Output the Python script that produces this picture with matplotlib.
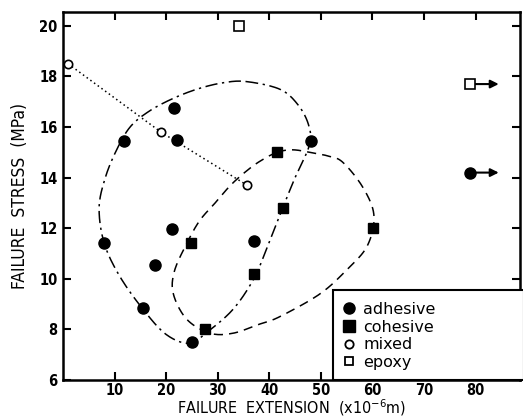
import numpy as np
import matplotlib
matplotlib.use("Agg")
import matplotlib.pyplot as plt
import matplotlib.patches as mpatches
from matplotlib.lines import Line2D

plt.rcParams['font.family'] = ['DejaVu Sans']
plt.rcParams['mathtext.default'] = 'regular'

# data (extension x10^-6 m, stress MPa)
adhesive_x = [21.5, 11.9, 22.1, 48.0, 7.9, 21.1, 17.9, 15.5, 25.1, 37.0]
adhesive_y = [16.75, 15.45, 15.5, 15.45, 11.4, 11.95, 10.55, 8.85, 7.5, 11.5]
cohesive_x = [24.9, 27.5, 37.0, 41.5, 42.6, 60.1]
cohesive_y = [11.4, 8.0, 10.2, 15.0, 12.8, 12.0]
mixed_x = [1.0, 19.0, 35.7]
mixed_y = [18.5, 15.8, 13.7]
epoxy_x = [34.1]
epoxy_y = [20.0]
# points beyond the range (drawn with arrows)
off_x = [79.0, 79.0]
off_y = [17.7, 14.2]
off_kind = ['epoxy', 'adhesive']

# hand drawn envelopes round the groups
adh_env_x = [35.5, 42, 45.5, 47.6, 47.8, 45, 42.6, 39.5, 37, 33, 28, 24.5, 20, 15.5, 11, 8, 7.0, 8.2, 10.4, 13, 16.5, 21, 26, 31]
adh_env_y = [17.8, 17.5, 16.9, 16.1, 15.3, 14.0, 12.8, 11.2, 10.0, 8.8, 7.9, 7.45, 7.8, 8.8, 10.1, 11.4, 12.8, 14.0, 15.1, 16.0, 16.6, 17.1, 17.5, 17.75]
coh_env_x = [41.5, 44.5, 47.9, 51.5, 54.3, 58.2, 60.3, 59, 55, 49.8, 42, 38, 33, 28.5, 24, 21.4, 21.6, 24, 26.5, 29.5, 32.5, 35.5, 38.2]
coh_env_y = [15.0, 15.1, 15.0, 14.85, 14.6, 13.6, 12.5, 11.3, 10.35, 9.4, 8.5, 8.2, 7.85, 7.85, 8.4, 9.4, 10.3, 11.4, 12.3, 13.0, 13.7, 14.25, 14.65]


def closed_curve(xs, ys, n=20):
    # Catmull-Rom through the envelope points, closed loop
    p = np.column_stack([xs, ys])
    m = len(p)
    out = []
    for i in range(m):
        p0, p1, p2, p3 = p[i - 1], p[i], p[(i + 1) % m], p[(i + 2) % m]
        t = np.linspace(0, 1, n, endpoint=False)[:, None]
        seg = 0.5 * ((2 * p1) + (-p0 + p2) * t + (2 * p0 - 5 * p1 + 4 * p2 - p3) * t ** 2
                     + (-p0 + 3 * p1 - 3 * p2 + p3) * t ** 3)
        out.append(seg)
    out = np.vstack(out + [out[0][:1]])
    return out[:, 0], out[:, 1]


fig = plt.figure(figsize=(5.23, 4.19), dpi=100)
ax = fig.add_axes([0.1205, 0.0931, 0.8735, 0.8783])

cx, cy = closed_curve(adh_env_x, adh_env_y)
ax.plot(cx, cy, color='k', lw=1.1, linestyle=(0, (8, 3, 1.5, 3)))
cx, cy = closed_curve(coh_env_x, coh_env_y)
ax.plot(cx, cy, color='k', lw=1.1, linestyle=(0, (6, 4)))

ax.plot(mixed_x, mixed_y, color='k', lw=1.1, linestyle=(0, (1, 2)))

ax.plot(adhesive_x, adhesive_y, 'o', color='k', ms=8, zorder=5)
ax.plot(cohesive_x, cohesive_y, 's', color='k', ms=7.5, zorder=5)
ax.plot(mixed_x, mixed_y, 'o', mfc='white', mec='k', mew=1.2, ms=6, zorder=5, clip_on=False)
ax.plot(epoxy_x, epoxy_y, 's', mfc='white', mec='k', mew=1.2, ms=6.5, zorder=5)

for x, y, k in zip(off_x, off_y, off_kind):
    ax.annotate('', xy=(84.5, y), xytext=(x, y),
                arrowprops=dict(arrowstyle='-|>', color='k', lw=1.5, mutation_scale=12, shrinkA=0, shrinkB=0))
    if k == 'epoxy':
        ax.plot([x], [y], 's', mfc='white', mec='k', mew=1.2, ms=6.5, zorder=6)
    else:
        ax.plot([x], [y], 'o', color='k', ms=8, zorder=6)

ax.set_xlim(0, 88.6)
ax.set_ylim(6, 20.55)
ax.set_xticks(np.arange(10, 81, 10))
ax.set_yticks(np.arange(6, 21, 2))
ax.tick_params(direction='in', length=6, width=1.5, top=True, right=True,
               labeltop=False, labelright=False, labelsize=10.5, pad=4)
ax.tick_params(axis='x', pad=2)
for lab in ax.get_xticklabels() + ax.get_yticklabels():
    lab.set_fontweight('bold')
    lab.set_fontstretch('condensed')
for s in ax.spines.values():
    s.set_linewidth(1.8)

ax.set_xlabel(r'FAILURE  EXTENSION  (x10$^{-6}$m)', fontsize=11.5, labelpad=0, fontstretch='condensed')
ax.set_ylabel('FAILURE  STRESS  (MPa)', fontsize=12.5, labelpad=7, fontstretch='condensed')

# legend box sits in the lower right corner
ax.add_patch(mpatches.Rectangle((0.59, 0.0), 0.42, 0.245, transform=ax.transAxes,
                                facecolor='white', edgecolor='k', lw=1.5, zorder=7, clip_on=False))
handles = [Line2D([], [], marker='o', color='k', ls='', ms=8),
           Line2D([], [], marker='s', color='k', ls='', ms=8),
           Line2D([], [], marker='o', mfc='white', mec='k', mew=1.3, ls='', ms=6),
           Line2D([], [], marker='s', mfc='white', mec='k', mew=1.3, ls='', ms=6)]
leg = ax.legend(handles, ['adhesive', 'cohesive', 'mixed', 'epoxy'], loc='upper left',
                bbox_to_anchor=(0.585, 0.245), frameon=False, fontsize=11.5,
                handlelength=0.8, handletextpad=0.5, labelspacing=0.17, borderpad=0.25)
leg.set_zorder(8)

fig.savefig('out.png', dpi=100)
